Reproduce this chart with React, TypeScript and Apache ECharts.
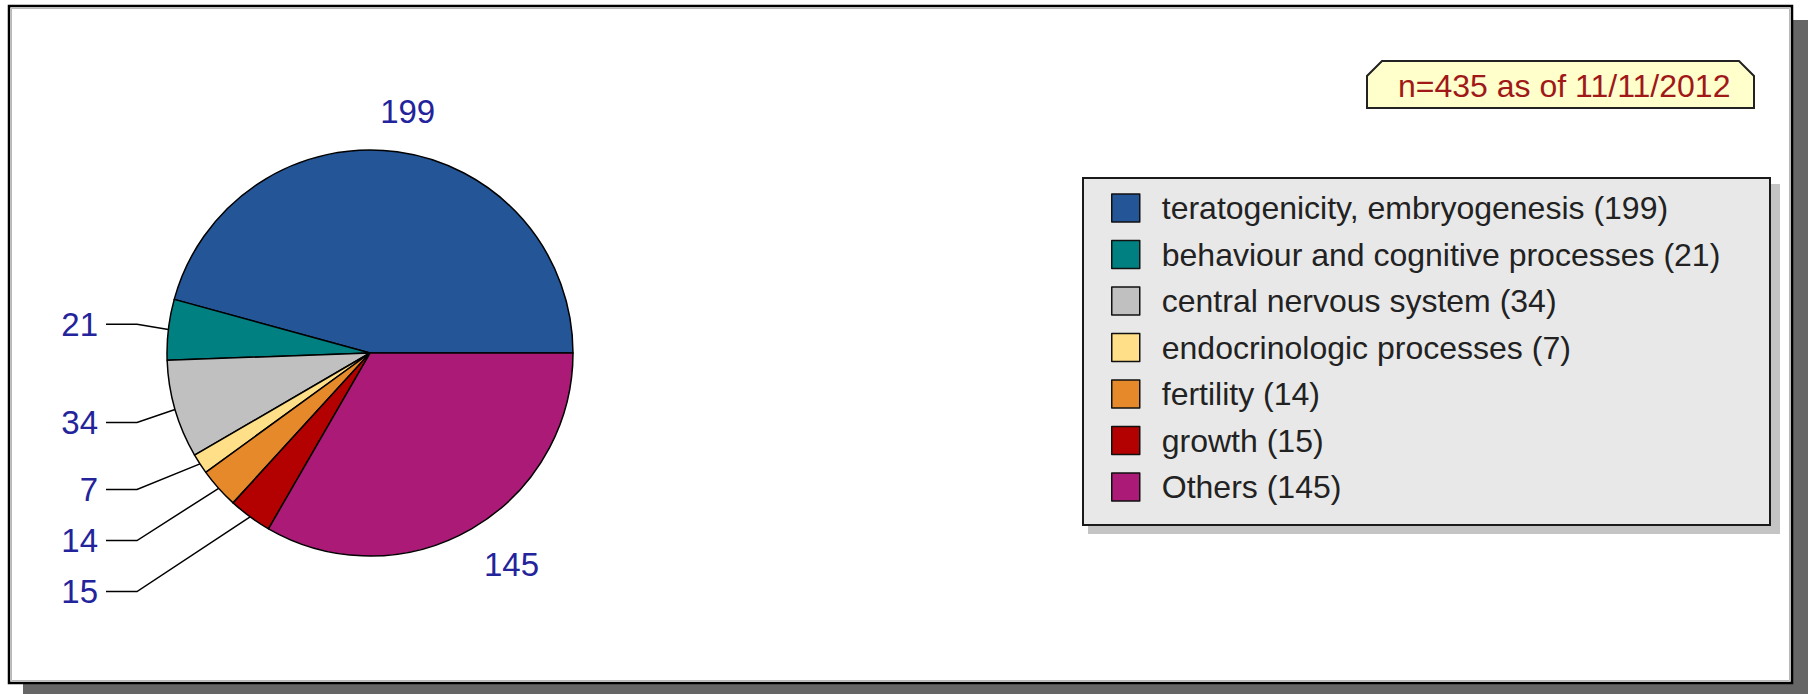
import React, { useEffect, useRef } from "react";
import * as echarts from "echarts";

// ---- data ----
const categories = [
  "teratogenicity, embryogenesis",
  "behaviour and cognitive processes",
  "central nervous system",
  "endocrinologic processes",
  "fertility",
  "growth",
  "Others",
];
const values = [199, 21, 34, 7, 14, 15, 145];
const sliceColors = ["#245596", "#008080", "#c0c0c0", "#ffdf88", "#e6892a", "#b30000", "#aa1a76"];
const noteText = "n=435 as of 11/11/2012";

// ---- layout ----
const W = 1808;
const H = 694;
const CX = 370;
const CY = 353;
const R = 203;
const LINK_R = 250;
const RIGHT_RX = 283;
const RIGHT_RY = 244;
const LABEL_RIGHT_X = 98;
const LINE_END_X = 106;
const LINE_BEND_X = 137;
const MIN_GAP = 51;
const FONT = "'Liberation Sans', Arial, Helvetica, sans-serif";

type LabelPos = { x: number; y: number; left: boolean; ex: number; ey: number };

function computeLabelPositions(): LabelPos[] {
  const total = values.reduce((a, b) => a + b, 0);
  let acc = 0;
  const mids = values.map((v) => {
    const m = ((acc + v / 2) / total) * 2 * Math.PI;
    acc += v;
    return m;
  });
  const pos: LabelPos[] = mids.map((a) => {
    const left = Math.cos(a) < 0;
    return {
      x: left ? CX + LINK_R * Math.cos(a) : CX + RIGHT_RX * Math.cos(a),
      y: left ? CY - LINK_R * Math.sin(a) : CY - RIGHT_RY * Math.sin(a),
      left,
      ex: CX + R * Math.cos(a),
      ey: CY - R * Math.sin(a),
    };
  });
  const leftIdx = pos
    .map((_, i) => i)
    .filter((i) => pos[i].left)
    .sort((a, b) => pos[a].y - pos[b].y);
  let prev = -Infinity;
  leftIdx.forEach((i) => {
    const y = Math.max(pos[i].y, prev + MIN_GAP);
    pos[i].y = y;
    prev = y;
  });
  return pos;
}

export default function App() {
  const ref = useRef<HTMLDivElement>(null);

  useEffect(() => {
    if (!ref.current) return;
    const chart = echarts.init(ref.current, undefined, { renderer: "svg", width: W, height: H });
    const pos = computeLabelPositions();

    const option: any = {
      animation: false,
      backgroundColor: "#ffffff",
      graphic: [
        // outer frame shadow
        { type: "rect", z: -10, silent: true, shape: { x: 23, y: 20, width: 1785, height: 674 }, style: { fill: "#666666" } },
        // outer frame
        { type: "rect", z: -9, silent: true, shape: { x: 9, y: 6, width: 1783, height: 677 }, style: { fill: "#ffffff", stroke: "#000000", lineWidth: 2.5 } },
        { type: "rect", z: -8, silent: true, shape: { x: 11.5, y: 8.5, width: 1778, height: 672 }, style: { fill: "none", stroke: "#b8b8b8", lineWidth: 1 } },
        // legend shadow & box
        { type: "rect", z: -7, silent: true, shape: { x: 1088, y: 184, width: 692, height: 350 }, style: { fill: "#c4c4c4" } },
        { type: "rect", z: -6, silent: true, shape: { x: 1083, y: 178, width: 687, height: 347 }, style: { fill: "#e8e8e8", stroke: "#1a1a1a", lineWidth: 2 } },
        // note box
        {
          type: "polygon",
          z: -6,
          silent: true,
          shape: { points: [[1367, 108], [1367, 76], [1382, 61], [1739, 61], [1754, 76], [1754, 108]] },
          style: { fill: "#ffffcc", stroke: "#222222", lineWidth: 2 },
        },
        {
          type: "text",
          z: -5,
          silent: true,
          x: 1398,
          y: 86,
          style: {
            text: noteText,
            fill: "#a01818",
            fontSize: 32,
            fontFamily: FONT,
            align: "left",
            verticalAlign: "middle",
            textAlign: "left",
            textVerticalAlign: "middle",
          },
        },
      ],
      legend: {
        orient: "vertical",
        left: 1106,
        top: 187,
        itemWidth: 28,
        itemHeight: 28,
        itemGap: 14.5,
        icon: "rect",
        selectedMode: false,
        itemStyle: { borderColor: "#111111", borderWidth: 1.5 },
        textStyle: { fontSize: 32, lineHeight: 32, color: "#222222", fontFamily: FONT, padding: [0, 0, 0, 17] },
        formatter: (name: string) => `${name} (${values[categories.indexOf(name)]})`,
        data: categories,
      },
      series: [
        {
          type: "pie",
          center: [CX, CY],
          radius: R,
          startAngle: 0,
          clockwise: false,
          avoidLabelOverlap: false,
          silent: true,
          emphasis: { disabled: true },
          itemStyle: { borderColor: "#000000", borderWidth: 1.5 },
          label: {
            show: true,
            position: "outside",
            formatter: "{c}",
            color: "#23239b",
            fontSize: 33,
            fontFamily: FONT,
          },
          labelLine: { show: true, length: 10, length2: 10, lineStyle: { color: "#000000", width: 1.5 } },
          labelLayout: (params: any) => {
            const p = pos[params.dataIndex];
            if (p.left) {
              return {
                x: LABEL_RIGHT_X,
                y: p.y,
                align: "right",
                verticalAlign: "middle",
                labelLinePoints: [
                  [p.ex, p.ey],
                  [LINE_BEND_X, p.y],
                  [LINE_END_X, p.y],
                ],
              };
            }
            return { x: p.x, y: p.y, align: "center", verticalAlign: "middle" };
          },
          data: categories.map((name, i) => ({
            name,
            value: values[i],
            itemStyle: { color: sliceColors[i] },
            labelLine: { show: pos[i].left },
          })),
        },
      ],
    };

    chart.setOption(option);
    return () => chart.dispose();
  }, []);

  return (
    <div
      ref={ref}
      style={{ position: "fixed", left: 0, top: 0, width: W, height: H, background: "#ffffff" }}
    />
  );
}
